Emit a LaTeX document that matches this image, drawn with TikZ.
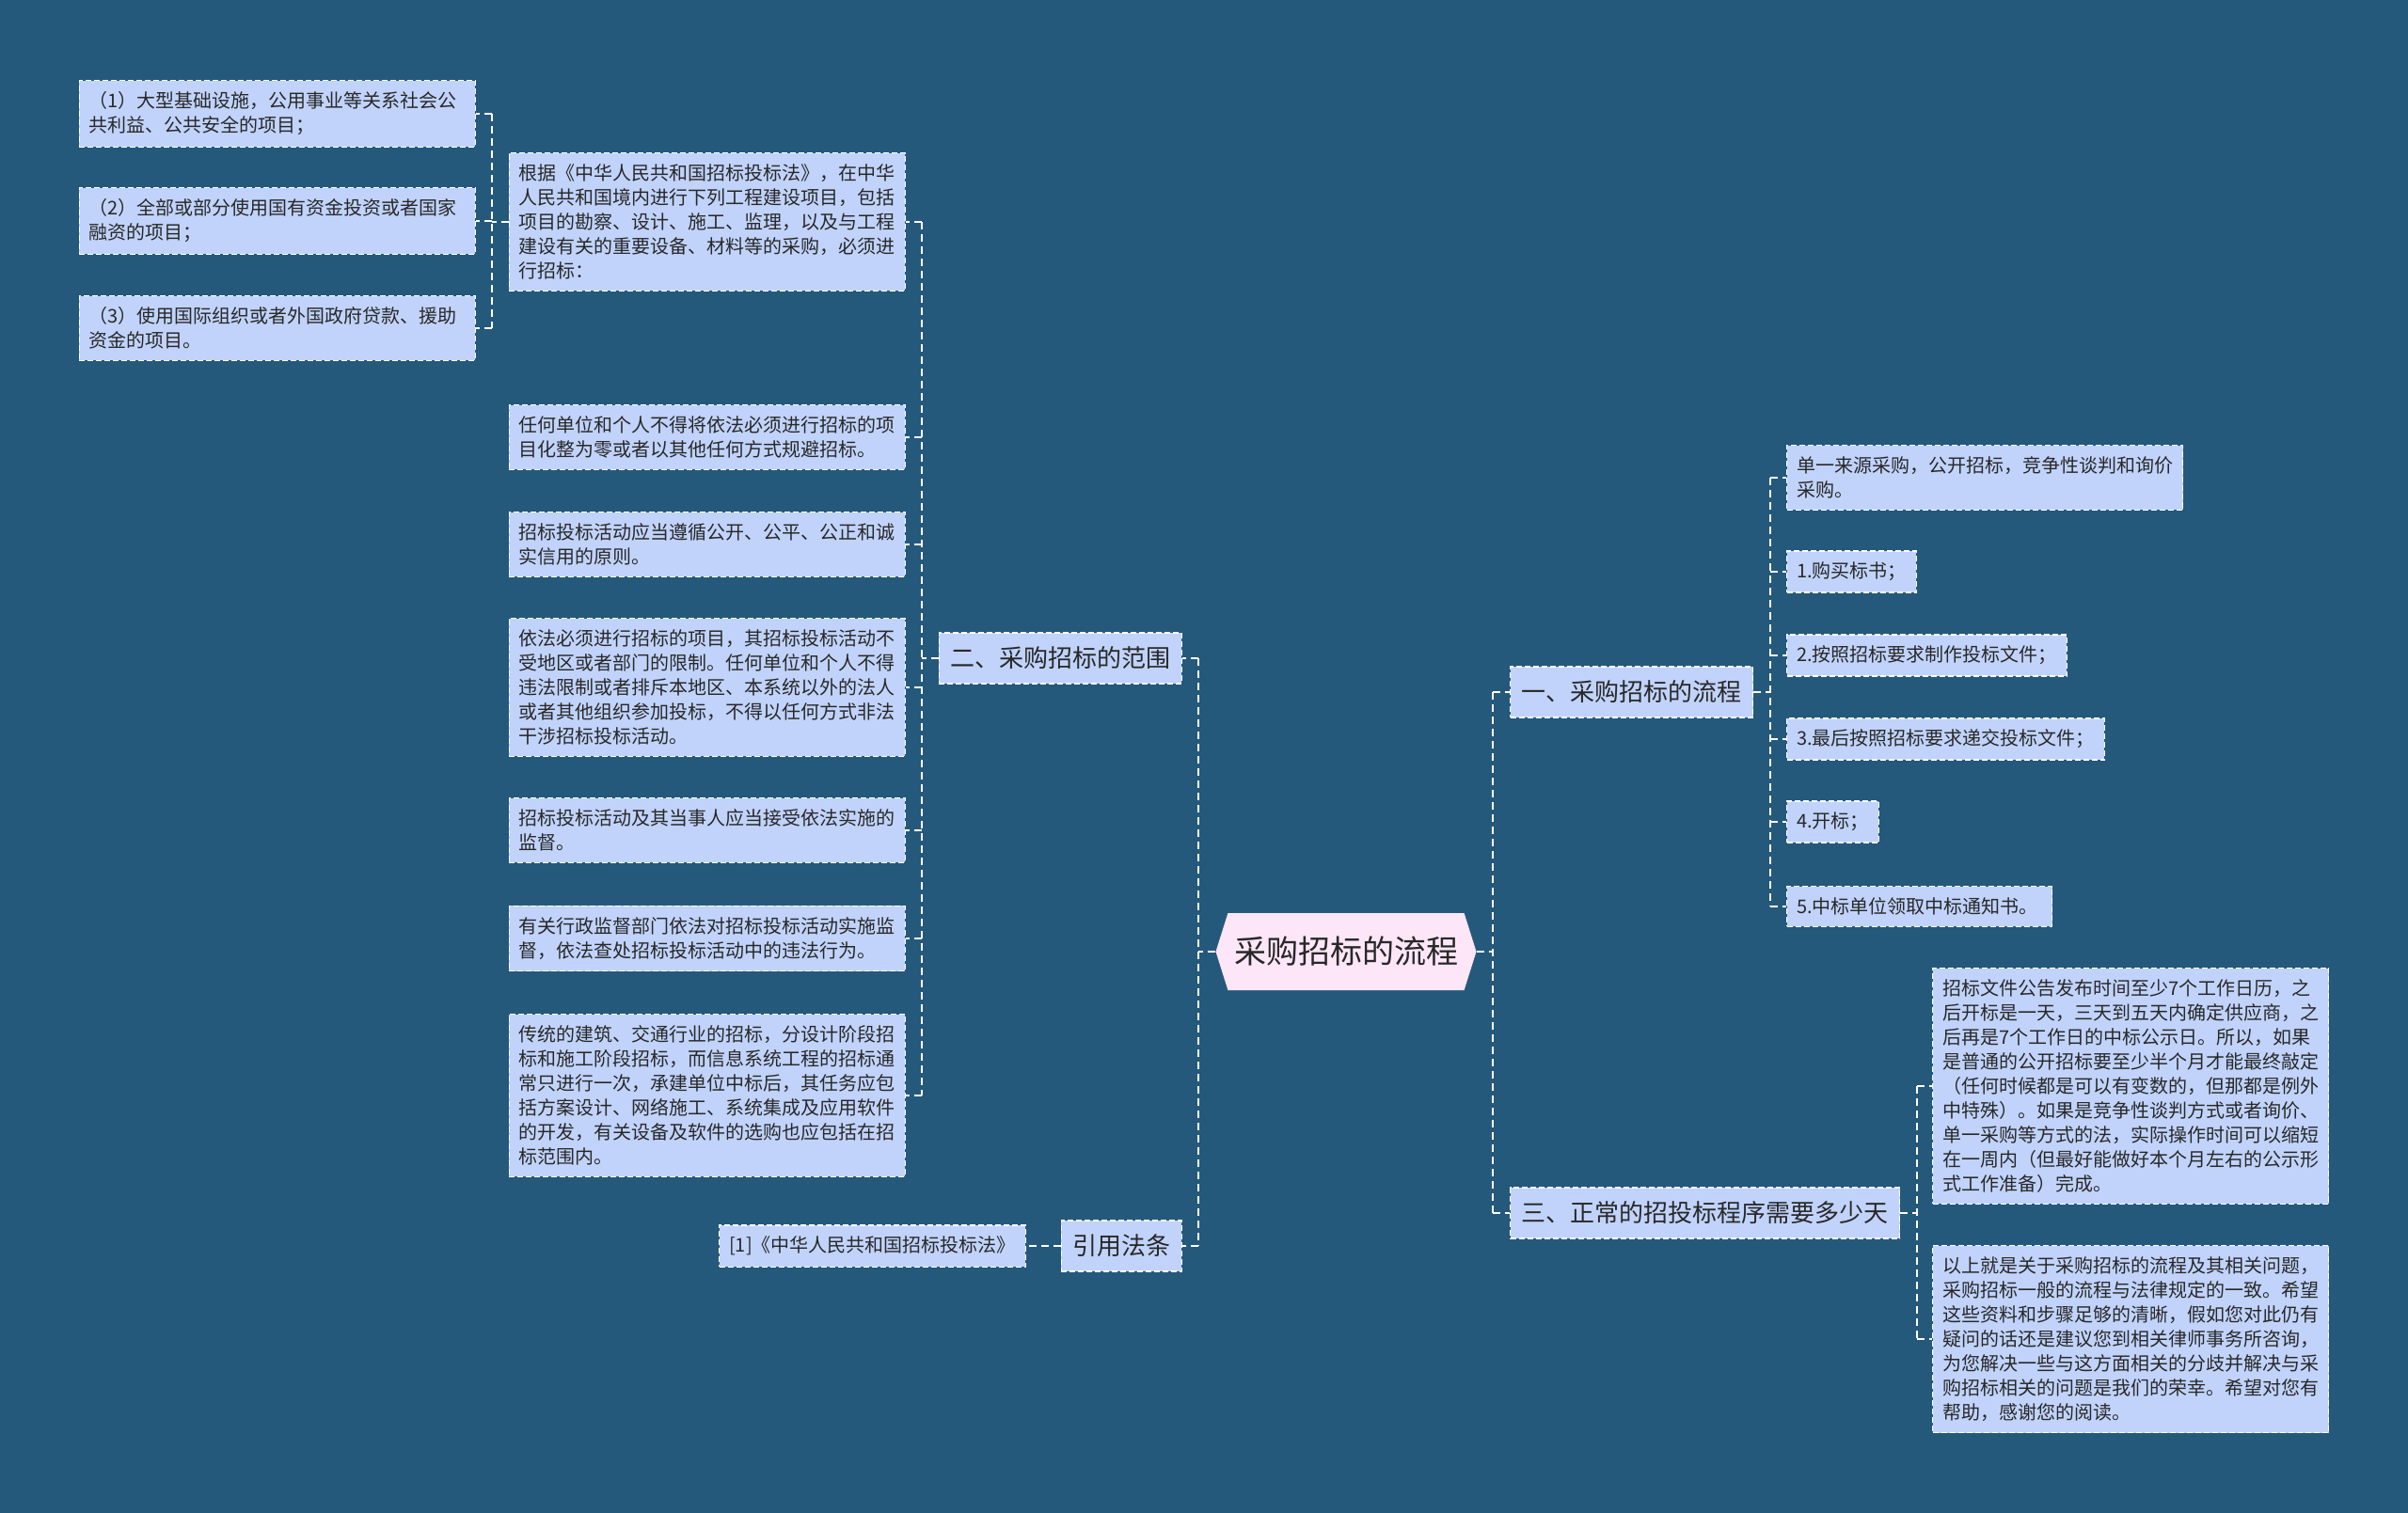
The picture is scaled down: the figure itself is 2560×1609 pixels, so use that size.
\documentclass[tikz,border=0pt]{standalone}
\usepackage{fontspec}
\newfontfamily\cjkfont{Noto Sans CJK SC}
\usetikzlibrary{shapes.symbols,calc}
\definecolor{bgblue}{RGB}{37,89,123}
\definecolor{leafblue}{RGB}{193,211,250}
\definecolor{rootpink}{RGB}{253,230,248}
\definecolor{inkgray}{RGB}{40,40,40}

\begin{document}
\begin{tikzpicture}[
  x=1pt,
  y=-1pt,
  link/.style={
    draw=white,
    line width=2pt,
    dash pattern=on 8pt off 5pt
  },
  leaf box/.style={
    draw=white,
    line width=1.3pt,
    dash pattern=on 6pt off 3pt,
    fill=leafblue,
    text=inkgray,
    font=\cjkfont\fontsize{20}{26}\selectfont,
    inner xsep=10.5pt,
    inner ysep=12pt,
    align=left
  },
  note box/.style={
    leaf box,
    text width=400pt
  },
  topic box/.style={
    leaf box,
    font=\cjkfont\fontsize{26}{32}\selectfont,
    inner xsep=12pt,
    inner ysep=15pt
  },
  root box/.style={
    shape=signal,
    signal to=west and east,
    signal pointer angle=145,
    fill=rootpink,
    text=inkgray,
    font=\cjkfont\fontsize{34}{40}\selectfont,
    minimum width=277pt,
    minimum height=82pt,
    inner xsep=4pt
  }
]

% Canvas
\fill[bgblue] (0,0) rectangle (2560,1609);
\useasboundingbox (0,0) rectangle (2560,1609);

\node[root box] (root) at (1431,1012) {采购招标的流程};

% Main topics
\node[topic box, anchor=east] (scope) at (1257,700) {二、采购招标的范围};
\node[topic box, anchor=east] (cite) at (1257,1325) {引用法条};
\node[topic box, anchor=west] (flow) at (1605,736) {一、采购招标的流程};
\node[topic box, anchor=west] (timing) at (1605,1290) {三、正常的招投标程序需要多少天};

% 二、采购招标的范围
\node[note box, anchor=east] (law-1) at (963,236)
  {根据《中华人民共和国招标投标法》，在中华\\人民共和国境内进行下列工程建设项目，包括\\项目的勘察、设计、施工、监理，以及与工程\\建设有关的重要设备、材料等的采购，必须进\\行招标：};
\node[note box, anchor=east] (law-2) at (963,465)
  {任何单位和个人不得将依法必须进行招标的项\\目化整为零或者以其他任何方式规避招标。};
\node[note box, anchor=east] (law-3) at (963,579)
  {招标投标活动应当遵循公开、公平、公正和诚\\实信用的原则。};
\node[note box, anchor=east] (law-4) at (963,731)
  {依法必须进行招标的项目，其招标投标活动不\\受地区或者部门的限制。任何单位和个人不得\\违法限制或者排斥本地区、本系统以外的法人\\或者其他组织参加投标，不得以任何方式非法\\干涉招标投标活动。};
\node[note box, anchor=east] (law-5) at (963,883)
  {招标投标活动及其当事人应当接受依法实施的\\监督。};
\node[note box, anchor=east] (law-6) at (963,998)
  {有关行政监督部门依法对招标投标活动实施监\\督，依法查处招标投标活动中的违法行为。};
\node[note box, anchor=east] (law-7) at (963,1165)
  {传统的建筑、交通行业的招标，分设计阶段招\\标和施工阶段招标，而信息系统工程的招标通\\常只进行一次，承建单位中标后，其任务应包\\括方案设计、网络施工、系统集成及应用软件\\的开发，有关设备及软件的选购也应包括在招\\标范围内。};

% Projects listed under law-1
\node[note box, anchor=east] (item-1) at (506,121)
  {（1）大型基础设施，公用事业等关系社会公\\共利益、公共安全的项目；};
\node[note box, anchor=east] (item-2) at (506,235)
  {（2）全部或部分使用国有资金投资或者国家\\融资的项目；};
\node[note box, anchor=east] (item-3) at (506,349)
  {（3）使用国际组织或者外国政府贷款、援助\\资金的项目。};

% 引用法条
\node[leaf box, anchor=east] (act) at (1091,1325) {[1]《中华人民共和国招标投标法》};

% 一、采购招标的流程
\node[note box, anchor=west] (kinds) at (1899,508)
  {单一来源采购，公开招标，竞争性谈判和询价\\采购。};
\foreach \name/\ypos/\txt in {
  step-1/608/{1.购买标书；},
  step-2/697/{2.按照招标要求制作投标文件；},
  step-3/786/{3.最后按照招标要求递交投标文件；},
  step-4/874/{4.开标；},
  step-5/964/{5.中标单位领取中标通知书。}
}{
  \node[leaf box, anchor=west] (\name) at (1899,\ypos) {\txt};
}

% 三、正常的招投标程序需要多少天
\node[note box, anchor=west] (days) at (2054,1155)
  {招标文件公告发布时间至少7个工作日历，之\\后开标是一天，三天到五天内确定供应商，之\\后再是7个工作日的中标公示日。所以，如果\\是普通的公开招标要至少半个月才能最终敲定\\（任何时候都是可以有变数的，但那都是例外\\中特殊）。如果是竞争性谈判方式或者询价、\\单一采购等方式的法，实际操作时间可以缩短\\在一周内（但最好能做好本个月左右的公示形\\式工作准备）完成。};
\node[note box, anchor=west] (summary) at (2054,1424)
  {以上就是关于采购招标的流程及其相关问题，\\采购招标一般的流程与法律规定的一致。希望\\这些资料和步骤足够的清晰，假如您对此仍有\\疑问的话还是建议您到相关律师事务所咨询，\\为您解决一些与这方面相关的分歧并解决与采\\购招标相关的问题是我们的荣幸。希望对您有\\帮助，感谢您的阅读。};

% Connectors: stub from the parent, one spine, stubs to the children.
\draw[link] (root.west) -- ++(-18,0) coordinate (root-left);
\draw[link] (root-left |- scope.east) -- (root-left |- cite.east);
\foreach \name in {scope,cite}{
  \draw[link] (root-left |- \name.east) -- (\name.east);
}

\draw[link] (root.east) -- ++(17,0) coordinate (root-right);
\draw[link] (root-right |- flow.west) -- (root-right |- timing.west);
\foreach \name in {flow,timing}{
  \draw[link] (root-right |- \name.west) -- (\name.west);
}

\draw[link] (scope.west) -- ++(-18,0) coordinate (scope-spine);
\draw[link] (scope-spine |- law-1.east) -- (scope-spine |- law-7.east);
\foreach \name in {law-1,law-2,law-3,law-4,law-5,law-6,law-7}{
  \draw[link] (scope-spine |- \name.east) -- (\name.east);
}

\draw[link] (law-1.west) -- ++(-18,0) coordinate (law-spine);
\draw[link] (law-spine |- item-1.east) -- (law-spine |- item-3.east);
\foreach \name in {item-1,item-2,item-3}{
  \draw[link] (law-spine |- \name.east) -- (\name.east);
}

\draw[link] (cite.west) -- (act.east);

\draw[link] (flow.east) -- ++(18,0) coordinate (flow-spine);
\draw[link] (flow-spine |- kinds.west) -- (flow-spine |- step-5.west);
\foreach \name in {kinds,step-1,step-2,step-3,step-4,step-5}{
  \draw[link] (flow-spine |- \name.west) -- (\name.west);
}

\draw[link] (timing.east) -- ++(18,0) coordinate (timing-spine);
\draw[link] (timing-spine |- days.west) -- (timing-spine |- summary.west);
\foreach \name in {days,summary}{
  \draw[link] (timing-spine |- \name.west) -- (\name.west);
}

\end{tikzpicture}
\end{document}
